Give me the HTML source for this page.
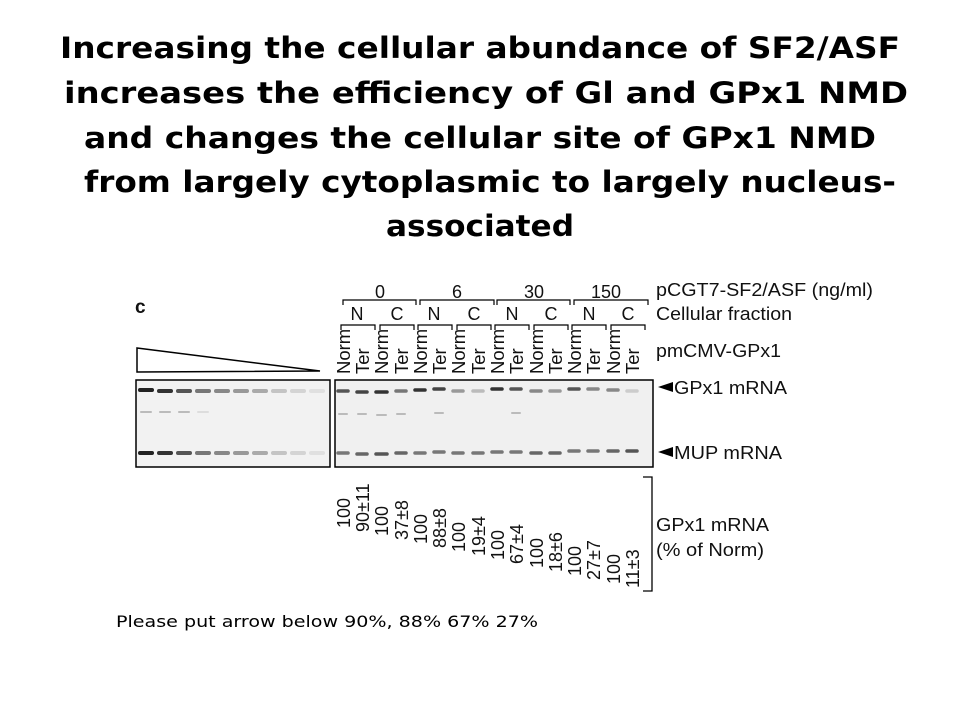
<!DOCTYPE html>
<html><head><meta charset="utf-8"><style>
html,body{margin:0;padding:0;background:#fff;}
svg{display:block}
.t{font-family:"DejaVu Sans","Liberation Sans",sans-serif;font-weight:bold;font-size:29px;fill:#000}
.s{font-family:"Liberation Sans",sans-serif;fill:#111}
</style></head><body>
<svg width="960" height="720" viewBox="0 0 960 720" xmlns="http://www.w3.org/2000/svg">
<text class="t" x="60" y="58" textLength="840" lengthAdjust="spacingAndGlyphs">Increasing the cellular abundance of SF2/ASF</text>
<text class="t" x="64" y="103" textLength="844" lengthAdjust="spacingAndGlyphs">increases the efficiency of Gl and GPx1 NMD</text>
<text class="t" x="84" y="148" textLength="792" lengthAdjust="spacingAndGlyphs">and changes the cellular site of GPx1 NMD</text>
<text class="t" x="84" y="192" textLength="812" lengthAdjust="spacingAndGlyphs">from largely cytoplasmic to largely nucleus-</text>
<text class="t" x="386" y="236" textLength="188" lengthAdjust="spacingAndGlyphs">associated</text>

<text class="s" x="135" y="313" font-size="19" font-weight="bold">c</text>
<polygon points="137,348 320,371 137,372" fill="#fff" stroke="#000" stroke-width="1.5"/>

<rect x="136" y="380" width="194" height="87" fill="#f2f2f2" stroke="#000" stroke-width="1.5"/>
<rect x="335" y="380" width="318" height="87" fill="#f0f0f0" stroke="#000" stroke-width="1.5"/>
<g stroke-linecap="round">
<g stroke-width="4">
<line x1="140" y1="390" x2="152" y2="390" stroke="#222"/><line x1="159" y1="391" x2="171" y2="391" stroke="#333"/><line x1="178" y1="391" x2="190" y2="391" stroke="#555"/><line x1="197" y1="391" x2="209" y2="391" stroke="#777"/><line x1="216" y1="391" x2="228" y2="391" stroke="#888"/><line x1="235" y1="391" x2="247" y2="391" stroke="#999"/><line x1="254" y1="391" x2="266" y2="391" stroke="#aaa"/><line x1="273" y1="391" x2="285" y2="391" stroke="#c4c4c4"/><line x1="292" y1="391" x2="304" y2="391" stroke="#d4d4d4"/><line x1="311" y1="391" x2="323" y2="391" stroke="#e0e0e0"/>
<line x1="140" y1="453" x2="152" y2="453" stroke="#222"/><line x1="159" y1="453" x2="171" y2="453" stroke="#333"/><line x1="178" y1="453" x2="190" y2="453" stroke="#555"/><line x1="197" y1="453" x2="209" y2="453" stroke="#777"/><line x1="216" y1="453" x2="228" y2="453" stroke="#888"/><line x1="235" y1="453" x2="247" y2="453" stroke="#999"/><line x1="254" y1="453" x2="266" y2="453" stroke="#aaa"/><line x1="273" y1="453" x2="285" y2="453" stroke="#c4c4c4"/><line x1="292" y1="453" x2="304" y2="453" stroke="#d4d4d4"/><line x1="311" y1="453" x2="323" y2="453" stroke="#e0e0e0"/>
</g>
<g stroke-width="2" stroke="#bbb"><line x1="141" y1="412" x2="151" y2="412"/><line x1="160" y1="412" x2="170" y2="412"/><line x1="179" y1="412" x2="189" y2="412"/><line x1="198" y1="412" x2="208" y2="412" stroke="#ddd"/></g>
<g stroke-width="3.5">
<line x1="338" y1="391" x2="348" y2="391" stroke="#555"/><line x1="357" y1="392" x2="367" y2="392" stroke="#444"/><line x1="376" y1="392" x2="387" y2="392" stroke="#333"/><line x1="396" y1="391" x2="406" y2="391" stroke="#777"/><line x1="415" y1="390" x2="425" y2="390" stroke="#333"/><line x1="434" y1="389" x2="444" y2="389" stroke="#444"/><line x1="453" y1="391" x2="463" y2="391" stroke="#999"/><line x1="473" y1="391" x2="483" y2="391" stroke="#bbb"/><line x1="492" y1="389" x2="502" y2="389" stroke="#333"/><line x1="511" y1="389" x2="521" y2="389" stroke="#555"/><line x1="531" y1="391" x2="541" y2="391" stroke="#888"/><line x1="550" y1="391" x2="560" y2="391" stroke="#999"/><line x1="569" y1="389" x2="579" y2="389" stroke="#555"/><line x1="588" y1="389" x2="598" y2="389" stroke="#888"/><line x1="608" y1="390" x2="618" y2="390" stroke="#888"/><line x1="627" y1="391" x2="637" y2="391" stroke="#ccc"/>
<line x1="338" y1="453" x2="348" y2="453" stroke="#777"/><line x1="357" y1="454" x2="367" y2="454" stroke="#666"/><line x1="376" y1="454" x2="387" y2="454" stroke="#555"/><line x1="396" y1="453" x2="406" y2="453" stroke="#666"/><line x1="415" y1="453" x2="425" y2="453" stroke="#777"/><line x1="434" y1="452" x2="444" y2="452" stroke="#777"/><line x1="453" y1="453" x2="463" y2="453" stroke="#777"/><line x1="473" y1="453" x2="483" y2="453" stroke="#777"/><line x1="492" y1="452" x2="502" y2="452" stroke="#777"/><line x1="511" y1="452" x2="521" y2="452" stroke="#777"/><line x1="531" y1="453" x2="541" y2="453" stroke="#666"/><line x1="550" y1="453" x2="560" y2="453" stroke="#666"/><line x1="569" y1="451" x2="579" y2="451" stroke="#777"/><line x1="588" y1="451" x2="598" y2="451" stroke="#777"/><line x1="608" y1="451" x2="618" y2="451" stroke="#666"/><line x1="627" y1="451" x2="637" y2="451" stroke="#555"/>
</g>
<g stroke-width="2" stroke="#bbb"><line x1="339" y1="414" x2="347" y2="414"/><line x1="358" y1="414" x2="366" y2="414"/><line x1="377" y1="415" x2="386" y2="415"/><line x1="397" y1="414" x2="405" y2="414"/><line x1="435" y1="413" x2="443" y2="413"/><line x1="512" y1="413" x2="520" y2="413"/></g>
</g>

<g class="s" font-size="18" text-anchor="middle">
<text x="380" y="298">0</text><text x="457" y="298">6</text><text x="534" y="298">30</text><text x="606" y="298">150</text>
<text x="357" y="320">N</text><text x="397" y="320">C</text><text x="434" y="320">N</text><text x="474" y="320">C</text><text x="512" y="320">N</text><text x="551" y="320">C</text><text x="589" y="320">N</text><text x="628" y="320">C</text>
</g>
<g fill="none" stroke="#000" stroke-width="1.2">
<path d="M343,305 V300 H416 V305"/><path d="M420,305 V300 H494 V305"/><path d="M497,305 V300 H570 V305"/><path d="M574,305 V300 H648 V305"/>
<path d="M341,330 V325 H375 V330"/><path d="M380,330 V325 H414 V330"/><path d="M418,330 V325 H452 V330"/><path d="M457,330 V325 H491 V330"/><path d="M495,330 V325 H529 V330"/><path d="M534,330 V325 H568 V330"/><path d="M572,330 V325 H606 V330"/><path d="M611,330 V325 H645 V330"/>
</g>
<g class="s" font-size="18.5">
<text transform="translate(350,374) rotate(-90)">Norm</text><text transform="translate(369,374) rotate(-90)">Ter</text>
<text transform="translate(388,374) rotate(-90)">Norm</text><text transform="translate(408,374) rotate(-90)">Ter</text>
<text transform="translate(427,374) rotate(-90)">Norm</text><text transform="translate(446,374) rotate(-90)">Ter</text>
<text transform="translate(465,374) rotate(-90)">Norm</text><text transform="translate(485,374) rotate(-90)">Ter</text>
<text transform="translate(504,374) rotate(-90)">Norm</text><text transform="translate(523,374) rotate(-90)">Ter</text>
<text transform="translate(543,374) rotate(-90)">Norm</text><text transform="translate(562,374) rotate(-90)">Ter</text>
<text transform="translate(581,374) rotate(-90)">Norm</text><text transform="translate(600,374) rotate(-90)">Ter</text>
<text transform="translate(620,374) rotate(-90)">Norm</text><text transform="translate(639,374) rotate(-90)">Ter</text>
</g>
<g class="s" font-size="18">
<text x="656" y="296" textLength="217" lengthAdjust="spacingAndGlyphs">pCGT7-SF2/ASF (ng/ml)</text>
<text x="656" y="320" textLength="136" lengthAdjust="spacingAndGlyphs">Cellular fraction</text>
<text x="656" y="357" textLength="125" lengthAdjust="spacingAndGlyphs">pmCMV-GPx1</text>
<text x="674" y="394" textLength="113" lengthAdjust="spacingAndGlyphs">GPx1 mRNA</text>
<text x="674" y="459" textLength="108" lengthAdjust="spacingAndGlyphs">MUP mRNA</text>
<text x="656" y="531" textLength="113" lengthAdjust="spacingAndGlyphs">GPx1 mRNA</text>
<text x="656" y="556" textLength="108" lengthAdjust="spacingAndGlyphs">(% of Norm)</text>
</g>
<polygon points="658,387 673,382 673,392" fill="#000"/>
<polygon points="658,452 673,447 673,457" fill="#000"/>

<g class="s" font-size="18">
<text transform="translate(350,528) rotate(-90)">100</text>
<text transform="translate(369,532) rotate(-90)">90±11</text>
<text transform="translate(388,536) rotate(-90)">100</text>
<text transform="translate(408,540) rotate(-90)">37±8</text>
<text transform="translate(427,544) rotate(-90)">100</text>
<text transform="translate(446,548) rotate(-90)">88±8</text>
<text transform="translate(465,552) rotate(-90)">100</text>
<text transform="translate(485,556) rotate(-90)">19±4</text>
<text transform="translate(504,560) rotate(-90)">100</text>
<text transform="translate(523,564) rotate(-90)">67±4</text>
<text transform="translate(543,568) rotate(-90)">100</text>
<text transform="translate(562,572) rotate(-90)">18±6</text>
<text transform="translate(581,576) rotate(-90)">100</text>
<text transform="translate(600,580) rotate(-90)">27±7</text>
<text transform="translate(620,584) rotate(-90)">100</text>
<text transform="translate(639,588) rotate(-90)">11±3</text>
</g>
<path d="M643,477 H652 V591 H643" fill="none" stroke="#000" stroke-width="1.3"/>

<text x="116" y="627" font-family="'DejaVu Sans','Liberation Sans',sans-serif" font-size="16" fill="#000" textLength="422" lengthAdjust="spacingAndGlyphs">Please put arrow below 90%, 88% 67% 27%</text>
</svg>
</body></html>
